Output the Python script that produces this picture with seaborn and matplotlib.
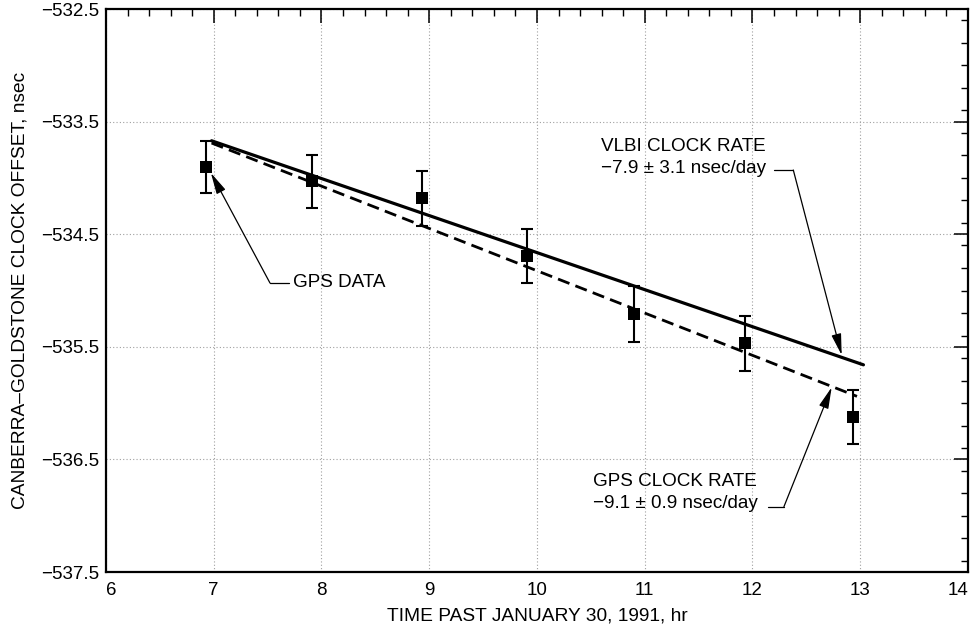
import matplotlib
matplotlib.use("Agg")
import matplotlib.pyplot as plt
import seaborn as sns
import pandas as pd
from matplotlib.ticker import MultipleLocator

# ---- data ----
time_hr = [6.93, 7.91, 8.93, 9.91, 10.90, 11.93, 12.93]
offset_ns = [-533.90, -534.03, -534.18, -534.69, -535.21, -535.47, -536.12]
offset_err = [0.23, 0.235, 0.245, 0.24, 0.25, 0.245, 0.24]

vlbi_x = [6.98, 13.03]
vlbi_y = [-533.67, -535.66]
gps_x = [6.98, 12.97]
gps_y = [-533.69, -535.94]

x_ticks = [6, 7, 8, 9, 10, 11, 12, 13, 14]
y_ticks = [-537.5, -536.5, -535.5, -534.5, -533.5, -532.5]

xlabel = "TIME PAST JANUARY 30, 1991, hr"
ylabel = "CANBERRA\u2013GOLDSTONE CLOCK OFFSET, nsec"
label_gps_data = "GPS DATA"
label_vlbi = "VLBI CLOCK RATE\n\u22127.9 \u00b1 3.1 nsec/day"
label_gps_rate = "GPS CLOCK RATE\n\u22129.1 \u00b1 0.9 nsec/day"

# ---- style ----
sns.set_theme(style="white")
plt.rcParams["font.family"] = ["Liberation Sans", "DejaVu Sans"]
plt.rcParams["axes.unicode_minus"] = True
plt.rcParams["text.color"] = "black"
plt.rcParams["axes.labelcolor"] = "black"

fig = plt.figure(figsize=(9.74, 6.31), dpi=100)
ax = fig.add_axes([0.1088, 0.0935, 0.8850, 0.8922])

pts = pd.DataFrame({"t": time_hr, "y": offset_ns, "e": offset_err})
ax.errorbar(pts["t"], pts["y"], yerr=pts["e"], fmt="none", ecolor="black",
            elinewidth=1.5, capsize=4.5, capthick=1.5, zorder=3)
sns.scatterplot(data=pts, x="t", y="y", marker="s", s=72, color="black",
                edgecolor="black", linewidth=0, ax=ax, zorder=4)

sns.lineplot(x=vlbi_x, y=vlbi_y, color="black", linewidth=2.3, ax=ax, zorder=2)
sns.lineplot(x=gps_x, y=gps_y, color="black", linewidth=2.0,
             linestyle=(0, (4.4, 2.3)), ax=ax, zorder=2)

ax.set_xlim(6, 14)
ax.set_ylim(-537.5, -532.5)
ax.set_xticks(x_ticks)
ax.set_yticks(y_ticks)
ax.set_xticklabels([str(v) for v in x_ticks])
ax.set_yticklabels([f"\u2212{abs(v):.1f}" for v in y_ticks])
xtl = ax.get_xticklabels()
xtl[0].set_horizontalalignment("left")
xtl[-1].set_horizontalalignment("right")
ax.xaxis.set_minor_locator(MultipleLocator(0.2))
ax.yaxis.set_minor_locator(MultipleLocator(0.2))
ax.tick_params(which="both", direction="in", top=True, right=True,
               color="black", labelsize=13.5, labelcolor="black")
ax.tick_params(which="major", length=10, width=1.1)
ax.tick_params(which="minor", length=5, width=1.0)
ax.tick_params(axis="x", which="major", pad=7)
ax.tick_params(axis="y", which="major", pad=5)

for s in ax.spines.values():
    s.set_visible(True)
    s.set_color("black")
    s.set_linewidth(1.6)

ax.grid(True, which="major", color="#a0a0a0", linestyle=(0, (1, 2)), linewidth=0.8)
ax.set_axisbelow(True)

ax.set_xlabel(xlabel, fontsize=13.8, color="black", labelpad=6)
ax.set_ylabel(ylabel, fontsize=13.8, color="black", labelpad=9)

arrow_kw = dict(arrowstyle="-|>,head_length=1.3,head_width=0.3",
                color="black", lw=0.9, mutation_scale=10, shrinkA=0, shrinkB=0)

# GPS DATA annotation
ax.text(7.735, -534.925, label_gps_data, fontsize=13.6, va="center", ha="left",
        color="black")
sns.lineplot(x=[7.522, 7.695], y=[-534.933, -534.933], color="black",
             linewidth=0.9, ax=ax)
ax.annotate("", xy=(6.974, -533.956), xytext=(7.522, -534.933), arrowprops=arrow_kw)

# VLBI annotation
ax.text(10.59, -533.817, label_vlbi, fontsize=13.6, va="center", ha="left",
        linespacing=1.4, color="black")
sns.lineplot(x=[12.20, 12.379], y=[-533.93, -533.93], color="black",
             linewidth=0.9, ax=ax)
ax.annotate("", xy=(12.828, -535.573), xytext=(12.379, -533.93), arrowprops=arrow_kw)

# GPS rate annotation
ax.text(10.523, -536.797, label_gps_rate, fontsize=13.6, va="center", ha="left",
        linespacing=1.4, color="black")
sns.lineplot(x=[12.145, 12.292], y=[-536.92, -536.92], color="black",
             linewidth=0.9, ax=ax)
ax.annotate("", xy=(12.735, -535.86), xytext=(12.292, -536.92), arrowprops=arrow_kw)

ax.set_xlim(6, 14)
ax.set_ylim(-537.5, -532.5)
fig.savefig("out.png", dpi=100)
